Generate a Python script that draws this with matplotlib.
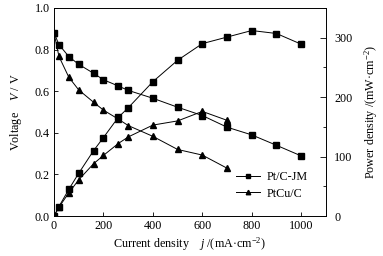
import matplotlib
matplotlib.use("Agg")
import matplotlib.pyplot as plt
from matplotlib.ticker import MultipleLocator

plt.rcParams['font.family'] = ['Liberation Serif', 'DejaVu Serif']
plt.rcParams['mathtext.fontset'] = 'custom'
plt.rcParams['mathtext.it'] = 'Liberation Serif:italic'
plt.rcParams['mathtext.rm'] = 'Liberation Serif'

# Current density (mA/cm2)
j_pt = [0, 20, 60, 100, 160, 200, 260, 300, 400, 500, 600, 700, 800, 900, 1000]
j_cu = [0, 20, 60, 100, 160, 200, 260, 300, 400, 500, 600, 700]

# Voltage (V)
v_pt = [0.88, 0.824, 0.766, 0.729, 0.686, 0.655, 0.625, 0.604, 0.566, 0.523, 0.483, 0.427, 0.39, 0.34, 0.289]
v_cu = [0.88, 0.767, 0.667, 0.606, 0.547, 0.509, 0.466, 0.435, 0.383, 0.32, 0.293, 0.23]

# Power density (mW/cm2)
p_pt = [0, 16, 45, 72, 110, 132, 166, 182, 226, 262, 290, 301, 312, 307, 289]
p_cu = [0, 15, 39, 61, 88, 102, 122, 133, 153, 160, 176, 161]

fs = 8.7
fig = plt.figure(figsize=(3.83, 2.56), dpi=100)
ax = fig.add_axes([0.141, 0.156, 0.851 - 0.141, 0.969 - 0.156])
ax2 = ax.twinx()

lw = 0.7
ms = 3.8
l1, = ax.plot(j_pt, v_pt, color='black', lw=lw, marker='s', ms=ms, label='Pt/C-JM')
l2, = ax.plot(j_cu, v_cu, color='black', lw=lw, marker='^', ms=ms, label='PtCu/C')
ax2.plot(j_pt, p_pt, color='black', lw=lw, marker='s', ms=ms)
ax2.plot(j_cu, p_cu, color='black', lw=lw, marker='^', ms=ms)

ax.set_xlim(0, 1100)
ax.set_ylim(0, 1.0)
ax2.set_ylim(0, 350)
ax.xaxis.set_major_locator(MultipleLocator(200))
ax.yaxis.set_major_locator(MultipleLocator(0.2))
ax.yaxis.set_major_formatter(matplotlib.ticker.FormatStrFormatter('%.1f'))
ax2.yaxis.set_major_locator(MultipleLocator(100))
ax2.yaxis.set_minor_locator(MultipleLocator(50))

ax.tick_params(axis='both', direction='in', labelsize=fs, length=3, width=0.6, pad=3)
ax.tick_params(axis='x', top=False)
ax2.tick_params(axis='y', which='major', direction='in', labelsize=fs, length=4, width=0.6, pad=6)
ax2.tick_params(axis='y', which='minor', direction='in', length=2.5, width=0.6)
for a in (ax, ax2):
    for s in a.spines.values():
        s.set_linewidth(0.6)

ax.set_xlabel(r'Current density    $j$ /(mA·cm$^{-2}$)', fontsize=fs, labelpad=2)
ax.set_ylabel(r'Voltage    $V$ / V', fontsize=fs, labelpad=8)
ax2.set_ylabel(r'Power density /(mW·cm$^{-2}$)', fontsize=fs, labelpad=7)

ax.legend(handles=[l1, l2], loc='upper left', bbox_to_anchor=(0.67, 0.215),
          frameon=False, fontsize=fs, handlelength=2.0, handletextpad=0.5,
          borderpad=0, borderaxespad=0, labelspacing=0.35, markerscale=0.85)

fig.savefig('out.png', dpi=100)
